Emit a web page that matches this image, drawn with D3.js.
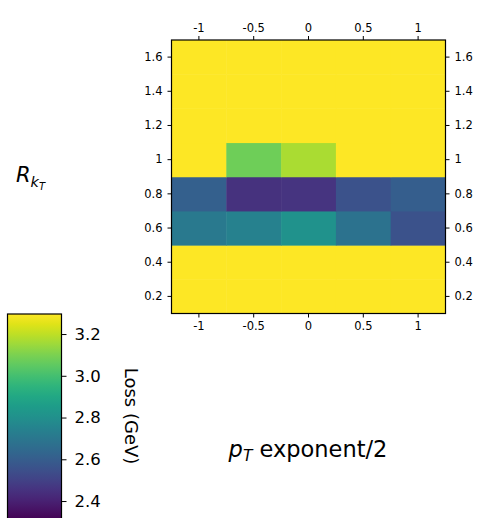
<!DOCTYPE html>
<html>
<head>
<meta charset="utf-8">
<script src="https://cdn.jsdelivr.net/npm/d3@7"></script>
<style>
  body { margin: 0; background: #fff; }
  svg text { font-family: "DejaVu Sans", sans-serif; fill: #000; }
</style>
</head>
<body>
<script>
// heatmap of loss vs pT exponent and R_kT

const xCats = ['-1', '-0.5', '0', '0.5', '1'];
const yCats = ['0.2', '0.4', '0.6', '0.8', '1', '1.2', '1.4', '1.6'];

// one row per y category (bottom to top), values per x category
const loss02 = [3.6, 3.6, 3.6, 3.6, 3.6];
const loss04 = [3.6, 3.6, 3.6, 3.6, 3.6];
const loss06 = [2.71, 2.74, 2.81, 2.68, 2.56];
const loss08 = [2.61, 2.45, 2.46, 2.56, 2.60];
const loss10 = [3.6, 3.08, 3.17, 3.6, 3.6];
const loss12 = [3.6, 3.6, 3.6, 3.6, 3.6];
const loss14 = [3.6, 3.6, 3.6, 3.6, 3.6];
const loss16 = [3.6, 3.6, 3.6, 3.6, 3.6];
const rows = [loss02, loss04, loss06, loss08, loss10, loss12, loss14, loss16];

const vmin = 2.31, vmax = 3.296;
const cbTicks = [2.4, 2.6, 2.8, 3.0, 3.2];

const width = 483, height = 518;
const plot = { left: 171.5, right: 445.5, top: 40, bottom: 313.5 };

const cells = [];
rows.forEach((r, i) => r.forEach((v, j) => cells.push({ x: xCats[j], y: yCats[i], v: v })));

const x = d3.scaleBand().domain(xCats).range([plot.left, plot.right]);
const y = d3.scaleBand().domain(yCats).range([plot.bottom, plot.top]);
const color = d3.scaleSequential(d3.interpolateViridis).domain([vmin, vmax]).clamp(true);

const svg = d3.select('body').append('svg')
    .attr('width', width)
    .attr('height', height);

svg.append('g')
    .selectAll('rect')
    .data(cells)
    .join('rect')
    .attr('x', d => x(d.x))
    .attr('y', d => y(d.y))
    .attr('width', x.bandwidth() + 0.5)
    .attr('height', y.bandwidth() + 0.5)
    .attr('fill', d => color(d.v));

svg.append('rect')
    .attr('x', plot.left)
    .attr('y', plot.top)
    .attr('width', plot.right - plot.left)
    .attr('height', plot.bottom - plot.top)
    .attr('fill', 'none')
    .attr('stroke', '#000')
    .attr('stroke-width', 1.2);

function styleAxis(g) {
    g.select('.domain').remove();
    g.selectAll('.tick line').attr('stroke', '#000').attr('stroke-width', 1);
    g.selectAll('.tick text').style('font-size', '11.5px');
}

svg.append('g')
    .attr('transform', `translate(0,${plot.bottom})`)
    .call(d3.axisBottom(x).tickSize(4).tickPadding(4))
    .call(styleAxis);
svg.append('g')
    .attr('transform', `translate(0,${plot.top})`)
    .call(d3.axisTop(x).tickSize(4).tickPadding(4))
    .call(styleAxis);
svg.append('g')
    .attr('transform', `translate(${plot.left},0)`)
    .call(d3.axisLeft(y).tickSize(4).tickPadding(5))
    .call(styleAxis);
svg.append('g')
    .attr('transform', `translate(${plot.right},0)`)
    .call(d3.axisRight(y).tickSize(4).tickPadding(5))
    .call(styleAxis);

// axis labels
const xl = svg.append('text')
    .attr('x', 308)
    .attr('y', 457)
    .attr('text-anchor', 'middle')
    .style('font-size', '22.5px');
xl.append('tspan').style('font-style', 'italic').text('p');
xl.append('tspan').attr('dy', 4).style('font-size', '15.5px').style('font-style', 'italic').text('T');
xl.append('tspan').attr('dy', -4).text(' exponent/2');

const yl = svg.append('text')
    .attr('x', 16)
    .attr('y', 182)
    .style('font-size', '21px');
yl.append('tspan').style('font-style', 'italic').text('R');
yl.append('tspan').attr('dy', 5).style('font-size', '14.5px').style('font-style', 'italic').text('k');
yl.append('tspan').attr('dy', 3).style('font-size', '10px').style('font-style', 'italic').text('T');

// colorbar
const cb = { left: 7.5, right: 61.5, top: 314 };
const cy = d3.scaleLinear().domain([vmin, vmax]).range([cb.top + (vmax - vmin) * 208.75, cb.top]);

const grad = svg.append('defs').append('linearGradient')
    .attr('id', 'cbgrad')
    .attr('x1', 0).attr('y1', 1).attr('x2', 0).attr('y2', 0);
grad.selectAll('stop')
    .data(d3.range(0, 1.0001, 0.05))
    .join('stop')
    .attr('offset', d => d)
    .attr('stop-color', d => d3.interpolateViridis(d));

svg.append('rect')
    .attr('x', cb.left)
    .attr('y', cy(vmax))
    .attr('width', cb.right - cb.left)
    .attr('height', cy(vmin) - cy(vmax))
    .attr('fill', 'url(#cbgrad)')
    .attr('stroke', '#000')
    .attr('stroke-width', 1.2);

svg.append('g')
    .attr('transform', `translate(${cb.right},0)`)
    .call(d3.axisRight(cy).tickValues(cbTicks).tickFormat(d3.format('.1f')).tickSize(5).tickPadding(8))
    .call(g => {
        g.select('.domain').remove();
        g.selectAll('.tick line').attr('stroke', '#000');
        g.selectAll('.tick text').style('font-size', '16.5px');
    });

svg.append('text')
    .attr('transform', 'translate(131,416) rotate(90)')
    .attr('text-anchor', 'middle')
    .attr('dy', '0.35em')
    .style('font-size', '18px')
    .text('Loss (GeV)');
</script>
</body>
</html>
